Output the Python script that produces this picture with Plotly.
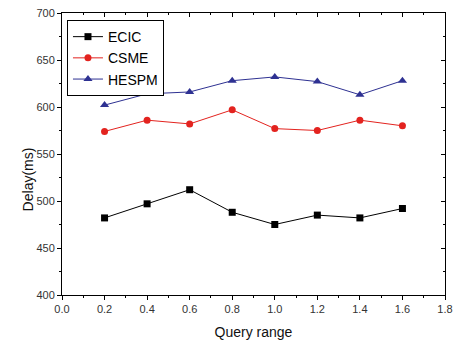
import plotly.graph_objects as go

query_range = [0.2, 0.4, 0.6, 0.8, 1.0, 1.2, 1.4, 1.6]
ecic = [482, 497, 512, 488, 475, 485, 482, 492]
csme = [574, 586, 582, 597, 577, 575, 586, 580]
hespm = [602, 614, 616, 628, 632, 627, 613, 628]

series = [
    ("ECIC", ecic, "#000000", "square", 7),
    ("CSME", csme, "#e3231f", "circle", 7),
    ("HESPM", hespm, "#2e3192", "triangle-up", 8),
]

font = "Liberation Sans, Arial, sans-serif"
fig = go.Figure()
for name, vals, color, sym, sz in series:
    fig.add_trace(go.Scatter(
        x=query_range, y=vals, name=name, mode="lines+markers",
        line=dict(color=color, width=1),
        marker=dict(symbol=sym, size=sz, color=color),
    ))
# invisible trace for mirrored top/right axes
fig.add_trace(go.Scatter(x=[0], y=[400], xaxis="x2", yaxis="y2",
                         mode="markers", marker=dict(opacity=0),
                         showlegend=False, hoverinfo="skip"))

axcommon = dict(showgrid=False, zeroline=False, showline=True,
                linecolor="#000", linewidth=1, tickcolor="#000",
                tickfont=dict(family=font, size=11, color="#333"))

fig.update_layout(
    width=453, height=344,
    margin=dict(l=62, r=8, t=13, b=49),
    paper_bgcolor="white", plot_bgcolor="white",
    font=dict(family=font, color="#222"),
    xaxis=dict(range=[0, 1.8], dtick=0.2, tickformat=".1f",
               ticks="outside", ticklen=4, automargin=False,
               minor=dict(ticks="outside", ticklen=2, dtick=0.1, tickcolor="#000"),
               title=dict(text="Query range", font=dict(family=font, size=14, color="#111"), standoff=12),
               **axcommon),
    yaxis=dict(range=[400, 700], dtick=50, automargin=False,
               ticks="outside", ticklen=4,
               minor=dict(ticks="outside", ticklen=2, dtick=25, tickcolor="#000"),
               **axcommon),
    xaxis2=dict(overlaying="x", side="top", range=[0, 1.8], dtick=0.2,
                ticks="inside", ticklen=4, showticklabels=False,
                minor=dict(ticks="inside", ticklen=2, dtick=0.1, tickcolor="#000"),
                **axcommon),
    yaxis2=dict(overlaying="y", side="right", range=[400, 700], dtick=50,
                ticks="inside", ticklen=4, showticklabels=False,
                minor=dict(ticks="inside", ticklen=2, dtick=25, tickcolor="#000"),
                **axcommon),
    legend=dict(x=0.013, y=0.975, xanchor="left", yanchor="top",
                bordercolor="#000", borderwidth=1, bgcolor="white",
                font=dict(family=font, size=14, color="#000"),
                tracegroupgap=0, itemwidth=30),
    annotations=[dict(text="Delay(ms)", xref="paper", yref="paper",
                      x=0, y=0.41, xshift=-44, textangle=-90, showarrow=False,
                      font=dict(family=font, size=14, color="#111"))],
)
fig.write_html("out.html")
